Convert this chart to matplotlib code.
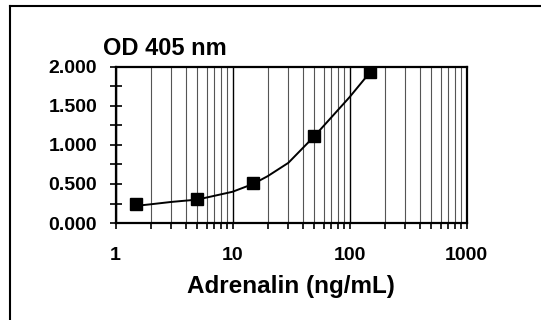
import matplotlib
matplotlib.use("Agg")
import matplotlib.pyplot as plt
from matplotlib.lines import Line2D
from matplotlib.ticker import LogLocator, FixedLocator, NullFormatter, FixedFormatter

# Data points (standards)
conc = [1.5, 5, 15, 50, 150]
od = [0.24, 0.31, 0.51, 1.12, 1.93]

# Fitted curve
curve_x = [1.5, 2, 3, 5, 10, 15, 20, 30, 50, 100, 150]
curve_y = [0.22, 0.24, 0.27, 0.30, 0.40, 0.50, 0.60, 0.77, 1.11, 1.61, 1.93]

xticks = [1, 10, 100, 1000]
xticklabels = ["1", "10", "100", "1000"]
yticks = [0.0, 0.5, 1.0, 1.5, 2.0]
yticklabels = ["0.000", "0.500", "1.000", "1.500", "2.000"]

plt.rcParams['font.family'] = ['Liberation Sans', 'DejaVu Sans']
plt.rcParams['font.weight'] = 'bold'

fig = plt.figure(figsize=(5.41, 3.2), dpi=100)
ax = fig.add_axes([0.2135, 0.303, 0.6488, 0.4885])

ax.set_xscale('log')
ax.set_xlim(1, 1000)
ax.set_ylim(0, 2.0)

ax.xaxis.set_major_locator(FixedLocator(xticks))
ax.xaxis.set_major_formatter(FixedFormatter(xticklabels))
ax.xaxis.set_minor_locator(LogLocator(base=10, subs=range(2, 10)))
ax.xaxis.set_minor_formatter(NullFormatter())
ax.yaxis.set_major_locator(FixedLocator(yticks))
ax.yaxis.set_major_formatter(FixedFormatter(yticklabels))
ax.yaxis.set_minor_locator(FixedLocator([0.25, 0.75, 1.25, 1.75]))

ax.grid(True, which='major', axis='x', color='black', linewidth=1.0)
ax.grid(True, which='minor', axis='x', color='#555555', linewidth=0.8)
ax.set_axisbelow(True)

ax.plot(curve_x, curve_y, color='black', linewidth=1.4, zorder=3)
ax.plot(conc, od, linestyle='none', marker='s', markersize=8.3, color='black', zorder=4)

for s in ax.spines.values():
    s.set_linewidth(1.6)
    s.set_color('black')

ax.tick_params(axis='x', which='major', direction='out', length=4, width=1.2, pad=13, labelsize=14)
ax.tick_params(axis='x', which='minor', direction='out', length=4, width=1.2)
ax.tick_params(axis='y', which='both', direction='inout', length=8.5, width=1.2, pad=9, labelsize=14)

ax.set_xlabel("Adrenalin (ng/mL)", fontsize=17.5, fontweight='bold', labelpad=8)
fig.text(103/541, 1 - 55/320, "OD 405 nm", fontsize=17, fontweight='bold', ha='left', va='baseline')

# outer frame (top and left edges)
fig.add_artist(Line2D([10/541, 1.0], [1 - 6/320, 1 - 6/320], color='black', linewidth=1.5, transform=fig.transFigure))
fig.add_artist(Line2D([10/541, 10/541], [0.0, 1 - 6/320], color='black', linewidth=1.5, transform=fig.transFigure))

fig.savefig("out.png", dpi=100)
